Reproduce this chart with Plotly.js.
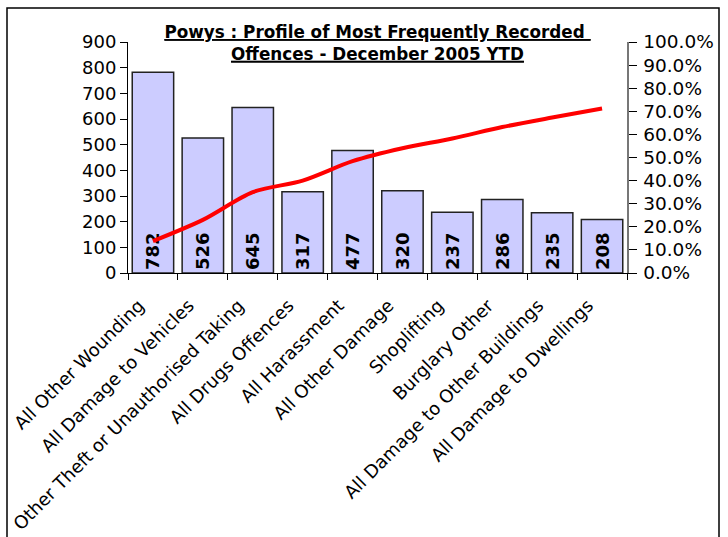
<!DOCTYPE html>
<html>
<head>
<meta charset="utf-8">
<script src="https://cdn.plot.ly/plotly-3.0.1.min.js"></script>
<style>
html,body{margin:0;padding:0;background:#fff;}
#chart{width:728px;height:537px;}
</style>
</head>
<body>
<div id="chart"></div>
<script>
const categories = [
  "All Other Wounding",
  "All Damage to Vehicles",
  "Other Theft or Unauthorised Taking",
  "All Drugs Offences",
  "All Harassment",
  "All Other Damage",
  "Shoplifting",
  "Burglary Other",
  "All Damage to Other Buildings",
  "All Damage to Dwellings"
];
const counts = [782, 526, 645, 317, 477, 320, 237, 286, 235, 208];
const cumulativePct = [0.138, 0.230, 0.350, 0.400, 0.484, 0.540, 0.582, 0.632, 0.673, 0.712];
const leftTicks = [0, 100, 200, 300, 400, 500, 600, 700, 800, 900];
const rightTicks = [0, 0.1, 0.2, 0.3, 0.4, 0.5, 0.6, 0.7, 0.8, 0.9, 1.0];

const L = 128, R = 627, T = 42, B = 273;
const W = 728, H = 537;
const pw = R - L, ph = B - T;
function px2x(p){ return (p - L) / pw; }
function py2y(p){ return (B - p) / ph; }

const bars = {
  type: 'bar',
  x: categories,
  y: counts,
  text: counts.map(String),
  textposition: 'inside',
  insidetextanchor: 'start',
  textangle: -90,
  textfont: {family: 'DejaVu Sans', size: 18, color: '#000', weight: 'bold'},
  marker: {color: '#CCCCFF', line: {color: '#222', width: 1.5}},
  cliponaxis: false,
  hoverinfo: 'skip'
};
const line = {
  type: 'scatter',
  mode: 'lines',
  x: categories,
  y: cumulativePct,
  yaxis: 'y2',
  line: {color: '#FF0000', width: 4, shape: 'spline', smoothing: 0.8},
  hoverinfo: 'skip'
};

const layout = {
  width: W, height: H,
  margin: {l: L, r: W - R, t: T, b: H - B, pad: 0},
  paper_bgcolor: '#fff',
  plot_bgcolor: '#fff',
  showlegend: false,
  bargap: 0.17,
  title: {
    text: '<b><u>Powys : Profile of Most Frequently Recorded </u></b><br><b><u>Offences - December 2005 YTD</u></b>',
    font: {family: 'DejaVu Sans', size: 16.8, color: '#000', lineposition: 'under'},
    x: 0.5, xanchor: 'center', xref: 'paper',
    y: 1 - 38 / H, yanchor: 'middle', yref: 'container'
  },
  xaxis: {
    type: 'category',
    tickangle: -45,
    tickfont: {family: 'DejaVu Sans', size: 18, color: '#000'},
    ticklabelstandoff: 14,
    ticklabelshift: -14,
    showline: true, linecolor: '#000', linewidth: 1,
    ticks: 'outside', ticklen: 6, tickcolor: '#000', tickson: 'boundaries',
    showgrid: false, zeroline: false
  },
  yaxis: {
    range: [0, 900],
    tickvals: leftTicks,
    tickfont: {family: 'DejaVu Sans', size: 18, color: '#000'},
    showline: true, linecolor: '#000', linewidth: 1,
    ticks: 'outside', ticklen: 7, tickcolor: '#000',
    showgrid: false, zeroline: false
  },
  yaxis2: {
    overlaying: 'y', side: 'right',
    range: [0, 1],
    tickvals: rightTicks,
    tickformat: '.1%',
    tickfont: {family: 'DejaVu Sans', size: 18.5, color: '#000'},
    ticklabelstandoff: 3,
    showline: true, linecolor: '#777', linewidth: 1.5,
    ticks: 'outside', ticklen: 8, tickcolor: '#000',
    showgrid: false, zeroline: false
  },
  shapes: [
    {type: 'rect', xref: 'paper', yref: 'paper',
     x0: px2x(7), x1: px2x(719), y0: py2y(560), y1: py2y(8),
     line: {color: '#000', width: 1.5}, fillcolor: 'rgba(0,0,0,0)', layer: 'below'}
  ]
};

Plotly.newPlot('chart', [bars, line], layout, {staticPlot: true, displayModeBar: false});
</script>
</body>
</html>
